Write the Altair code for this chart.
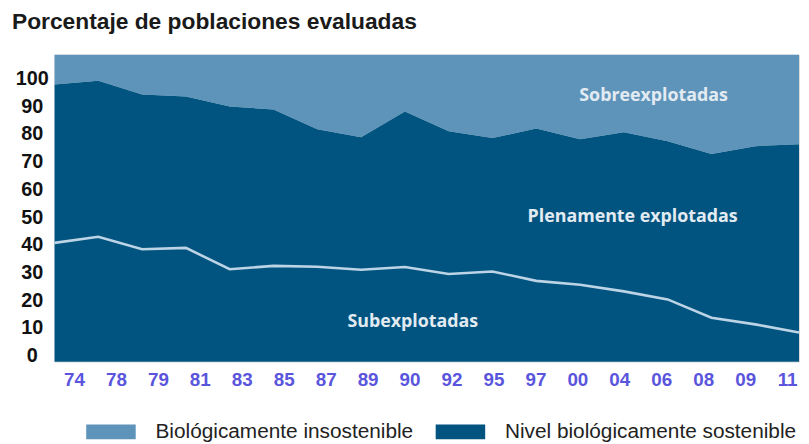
import altair as alt
import pandas as pd

# ---- data ----
year_labels = ["74", "78", "79", "81", "83", "85", "87", "89", "90", "92",
               "95", "97", "00", "04", "06", "08", "09", "11"]
# upper boundary of "Nivel biológicamente sostenible" (% of stocks)
sostenible = [97.8, 99.2, 94.2, 93.5, 89.9, 88.8, 81.7, 78.8, 88.1, 81.0,
              78.5, 82.0, 78.1, 80.6, 77.4, 72.8, 75.6, 76.3]
# share of underexploited stocks (white line)
subexplotadas = [40.7, 42.9, 38.4, 38.9, 31.2, 32.4, 32.1, 31.0, 32.0, 29.5,
                 30.4, 27.0, 25.6, 23.2, 20.3, 13.7, 11.3, 8.4]

ann_text = ["Sobreexplotadas", "Plenamente explotadas", "Subexplotadas"]
ann_x = [13.68, 13.2, 8.18]
ann_y = [93.5, 49.9, 12.0]

serie_insost = "Biológicamente insostenible"
serie_sost = "Nivel biológicamente sostenible"

# ---- tables ----
df = pd.DataFrame({
    "idx": list(range(len(year_labels))),
    "label": year_labels,
    "sost": sostenible,
    "sub": subexplotadas,
})
ann = pd.DataFrame({"text": ann_text, "x": ann_x, "y": ann_y})

# ---- styling ----
LIGHT = "#5f94ba"
DARK = "#01547f"
Y_MIN, Y_MAX = -2.14, 108.57

xscale = alt.Scale(domain=[0, len(year_labels) - 1], nice=False, zero=False)
yscale = alt.Scale(domain=[Y_MIN, Y_MAX], nice=False, zero=False)
yaxis = alt.Axis(values=list(range(0, 101, 10)), ticks=False, tickSize=0,
                 domain=False, grid=False, labelAlign="center",
                 labelBaseline="middle", labelPadding=23,
                 labelFont="Liberation Sans", labelFontSize=20,
                 labelFontWeight="bold", labelColor="#111111")
cscale = alt.Scale(domain=[serie_insost, serie_sost], range=[LIGHT, DARK])
legend = alt.Legend(
    title=None, orient="none", direction="horizontal", legendX=32, legendY=356,
    symbolType="M-1,-0.3H1V0.3H-1Z", symbolSize=2500, symbolStrokeWidth=0,
    symbolOpacity=1, labelFont="Liberation Sans", labelFontSize=21,
    labelColor="#222222", labelOffset=20, columnPadding=22, padding=0,
    labelLimit=0,
)

base = alt.Chart(df)

light_area = base.transform_calculate(serie=f"'{serie_insost}'").mark_area(opacity=1).encode(
    x=alt.X("idx:Q", scale=xscale, axis=None),
    y=alt.Y("sost:Q", scale=yscale, axis=yaxis, title=None),
    y2=alt.Y2Datum(Y_MAX),
    color=alt.Color("serie:N", scale=cscale, legend=legend),
)
dark_area = base.transform_calculate(serie=f"'{serie_sost}'").mark_area(opacity=1).encode(
    x=alt.X("idx:Q", scale=xscale, axis=None),
    y=alt.Y("sost:Q", scale=yscale, axis=yaxis, title=None),
    y2=alt.Y2Datum(Y_MIN),
    color=alt.Color("serie:N", scale=cscale, legend=legend),
)
line = base.mark_line(color="#bcd4e6", strokeWidth=2.6).encode(
    x=alt.X("idx:Q", scale=xscale, axis=None),
    y=alt.Y("sub:Q", scale=yscale, axis=yaxis, title=None),
)
texts = alt.Chart(ann).mark_text(
    font="Open Sans", fontWeight="bold", fontSize=18, color="#e3ebf2",
    align="center", baseline="middle",
).encode(
    x=alt.X("x:Q", scale=xscale, axis=None),
    y=alt.Y("y:Q", scale=yscale, axis=yaxis, title=None),
    text="text:N",
)

data_layer = alt.layer(light_area, dark_area, line, texts)

axis_layer = base.mark_point(opacity=0).encode(
    x=alt.X("label:O", sort=year_labels,
            scale=alt.Scale(type="point", padding=0.374, align=0.62),
            axis=alt.Axis(orient="bottom", labelAngle=0, ticks=False, tickSize=0,
                          domain=False, grid=False, labelPadding=9,
                          labelFont="Liberation Sans", labelFontSize=19,
                          labelFontWeight="bold", labelColor="#5a55dc"),
            title=None),
)

chart = alt.layer(data_layer, axis_layer).resolve_scale(x="independent").properties(
    width=752,
    height=310,
    autosize=alt.AutoSizeParams(type="none"),
    padding={"left": 47, "top": 45, "right": 2, "bottom": 81},
    title=alt.TitleParams(
        "Porcentaje de poblaciones evaluadas", anchor="start", frame="group",
        dx=-43, offset=21, fontSize=23, fontWeight="bold",
        font="Liberation Sans", color="#1a1a1a",
    ),
).configure_view(stroke=None).configure(background="white")

chart.save("out.html", embed_options={"renderer": "svg", "actions": False})
